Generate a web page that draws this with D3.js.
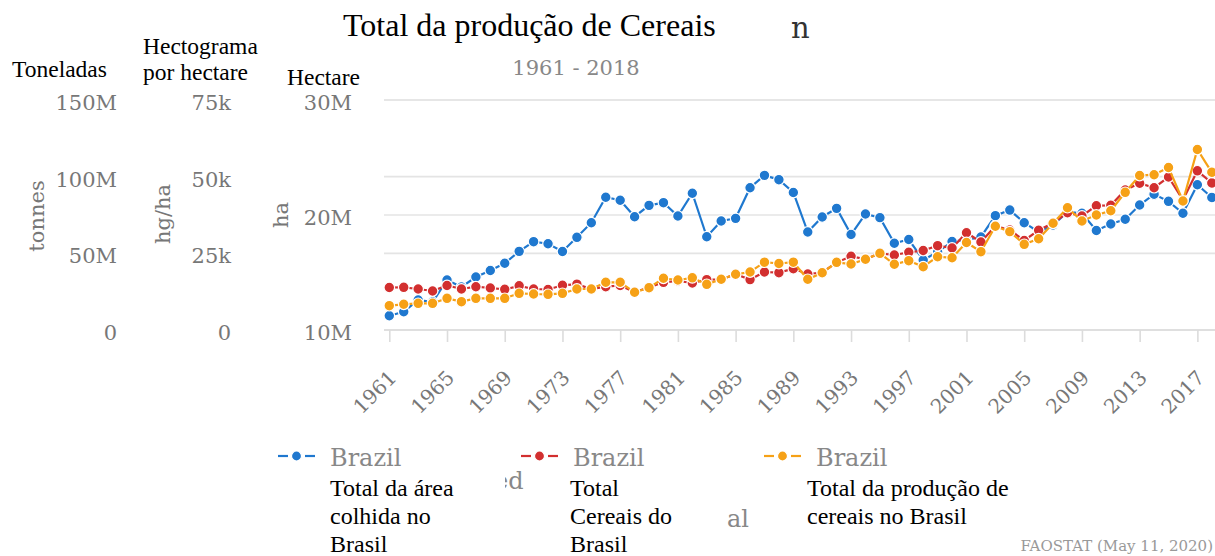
<!DOCTYPE html>
<html>
<head>
<meta charset="utf-8">
<script src="https://cdn.jsdelivr.net/npm/d3@7"></script>
<style>
  body { margin: 0; background: #fff; }
  svg { display: block; }
</style>
</head>
<body>
<script>
const width = 1215;
const height = 556;

const years = d3.range(1961, 2019);

// Total da área colhida (ha)
const areaHa = [
  11.24, 11.59, 12.61, 12.43, 14.35, 13.74, 14.61, 15.17, 15.80, 16.84,
  17.68, 17.50, 16.83, 18.06, 19.33, 21.54, 21.28, 19.85, 20.84, 21.07,
  19.91, 21.89, 18.11, 19.48, 19.71, 22.37, 23.45, 23.07, 21.96, 18.52,
  19.83, 20.58, 18.30, 20.09, 19.77, 17.54, 17.87, 16.09, 16.78, 17.70,
  17.83, 18.09, 19.94, 20.43, 19.33, 18.52, 19.13, 20.26, 20.15, 18.65,
  19.22, 19.63, 20.87, 21.81, 21.19, 20.15, 22.63, 21.52
].map(d => d * 1e6);

// Rendimento (hg/ha)
const yieldHg = [
  13860, 13920, 13370, 12720, 14510, 13370, 14120, 13700, 13270, 14410,
  13370, 13210, 14580, 14940, 13370, 14120, 14510, 12390, 13860, 15550,
  15980, 15330, 16440, 16470, 18200, 16440, 18910, 18690, 19990, 18260,
  18750, 22010, 24030, 23150, 24950, 24460, 25340, 25920, 27490, 26740,
  31700, 28700, 33910, 32610, 29190, 32510, 34890, 38250, 37170, 40530,
  40660, 45650, 47840, 46400, 49890, 42390, 51910, 47940
];

// Total da produção (toneladas)
const productionT = [
  15.85, 16.76, 17.41, 17.41, 20.67, 18.46, 20.67, 20.67, 20.67, 23.93,
  23.48, 23.28, 23.93, 26.74, 26.74, 31.11, 31.11, 24.59, 27.59, 33.72,
  32.61, 34.04, 29.80, 33.07, 36.33, 37.83, 44.22, 43.37, 44.22, 33.07,
  37.37, 44.15, 43.04, 46.11, 50.02, 42.85, 45.20, 41.28, 47.80, 47.09,
  57.07, 51.07, 67.63, 64.17, 55.89, 59.54, 69.59, 79.76, 71.09, 75.00,
  77.80, 89.80, 100.76, 101.28, 105.98, 84.13, 117.72, 102.85
].map(d => d * 1e6);

const xTicks = d3.range(1961, 2018, 4);
const tonnesTicks = [0, 50e6, 100e6, 150e6];
const hgTicks = [0, 25000, 50000, 75000];
const haTicks = [10e6, 20e6, 30e6];

const legendNames = ["Brazil", "Brazil", "Brazil"];
const legendNotes = [
  ["Total da área", "colhida no", "Brasil"],
  ["Total", "Cereais do", "Brasil"],
  ["Total da produção de", "cereais no Brasil"]
];

const colors = ["#1f78cf", "#d22f2f", "#f6a116"];
const serifGray = "DejaVu Serif";
const serifBlack = "'Liberation Serif', 'Times New Roman', serif";

const plot = { left: 389.3, right: 1211.8, top: 100, bottom: 330 };

const x = d3.scaleLinear().domain([1961, 2018]).range([plot.left, plot.right]);
const yT = d3.scaleLinear().domain([0, 150e6]).range([plot.bottom, plot.top]);
const yY = d3.scaleLinear().domain([0, 75000]).range([plot.bottom, plot.top]);
const yA = d3.scaleLinear().domain([10e6, 30e6]).range([plot.bottom, plot.top]);

const svg = d3.select("body").append("svg")
  .attr("width", width)
  .attr("height", height);

// grid lines from all three axes
const gridVals = [
  ...tonnesTicks.map(d => yT(d)),
  ...haTicks.map(d => yA(d))
];
svg.append("g")
  .selectAll("line")
  .data(gridVals)
  .join("line")
  .attr("x1", 384).attr("x2", width)
  .attr("y1", d => d).attr("y2", d => d)
  .attr("stroke", "#e4e4e4")
  .attr("stroke-width", 1.6);

// x axis
const xAxis = svg.append("g")
  .attr("transform", `translate(0,${plot.bottom})`)
  .call(d3.axisBottom(x).tickValues(xTicks).tickFormat(d3.format("d")).tickSize(12));
xAxis.select(".domain").attr("stroke", "#dcdcdc").attr("stroke-width", 1.6)
  .attr("d", `M384,0H${width}`);
xAxis.selectAll(".tick line").attr("stroke", "#dcdcdc").attr("stroke-width", 1.6);
xAxis.selectAll(".tick text")
  .attr("font-family", serifGray)
  .attr("font-size", 20)
  .attr("fill", "#777")
  .attr("text-anchor", "end")
  .attr("dy", null)
  .attr("y", null)
  .attr("transform", "translate(8,49) rotate(-45)");

// y axes
function yAxis(scale, ticks, xPos) {
  const g = svg.append("g")
    .attr("transform", `translate(${xPos},0)`)
    .call(d3.axisLeft(scale).tickValues(ticks).tickFormat(d3.format("~s")).tickSize(0).tickPadding(0));
  g.select(".domain").remove();
  g.selectAll(".tick text")
    .attr("font-family", serifGray)
    .attr("font-size", 21)
    .attr("fill", "#777")
    .attr("dy", "0.45em");
  return g;
}
yAxis(yT, tonnesTicks, 117);
yAxis(yY, hgTicks, 231);
yAxis(yA, haTicks, 352);

const axisTitles = [
  { text: "tonnes", x: 44, y: 216 },
  { text: "hg/ha", x: 170, y: 214 },
  { text: "ha", x: 288, y: 215 }
];
svg.append("g")
  .selectAll("text")
  .data(axisTitles)
  .join("text")
  .attr("transform", d => `translate(${d.x},${d.y}) rotate(-90)`)
  .attr("text-anchor", "middle")
  .attr("font-family", serifGray)
  .attr("font-size", 21)
  .attr("fill", "#777")
  .text(d => d.text);

// series
const series = [
  { values: areaHa, y: yA, color: colors[0] },
  { values: yieldHg, y: yY, color: colors[1] },
  { values: productionT, y: yT, color: colors[2] }
];

series.forEach(s => {
  const pts = years.map((yr, i) => [x(yr), s.y(s.values[i])]);
  const g = svg.append("g");
  g.append("path")
    .attr("d", d3.line()(pts))
    .attr("fill", "none")
    .attr("stroke", s.color)
    .attr("stroke-width", 2.2);
  g.selectAll("circle")
    .data(pts)
    .join("circle")
    .attr("cx", d => d[0])
    .attr("cy", d => d[1])
    .attr("r", 5.3)
    .attr("fill", s.color)
    .attr("stroke", "#fff")
    .attr("stroke-width", 1.2);
});

// titles
svg.append("text")
  .attr("x", 343).attr("y", 36)
  .attr("font-family", serifBlack)
  .attr("font-size", 32)
  .attr("fill", "#000")
  .text("Total da produção de Cereais");

svg.append("text")
  .attr("x", 791).attr("y", 38)
  .attr("font-family", serifGray)
  .attr("font-size", 29)
  .attr("fill", "#333")
  .text("n");

svg.append("text")
  .attr("x", 576).attr("y", 75)
  .attr("text-anchor", "middle")
  .attr("font-family", serifGray)
  .attr("font-size", 21)
  .attr("fill", "#888")
  .text("1961 - 2018");

const headers = [
  { lines: ["Toneladas"], x: 12, y: 77 },
  { lines: ["Hectograma", "por hectare"], x: 143, y: 54 },
  { lines: ["Hectare"], x: 287, y: 85 }
];
headers.forEach(h => {
  const t = svg.append("text")
    .attr("font-family", serifBlack)
    .attr("font-size", 23.5)
    .attr("fill", "#000");
  h.lines.forEach((ln, i) => {
    t.append("tspan").attr("x", h.x).attr("y", h.y + i * 26).text(ln);
  });
});

// legend
const legend = svg.append("g");
legendNames.forEach((name, i) => {
  const lx = 278 + i * 243;
  const ly = 456;
  legend.append("line")
    .attr("x1", lx).attr("x2", lx + 37)
    .attr("y1", ly).attr("y2", ly)
    .attr("stroke", colors[i])
    .attr("stroke-width", 2.2)
    .attr("stroke-dasharray", "10,27");
  legend.append("line")
    .attr("x1", lx + 27).attr("x2", lx + 37)
    .attr("y1", ly).attr("y2", ly)
    .attr("stroke", colors[i])
    .attr("stroke-width", 2.2);
  legend.append("circle")
    .attr("cx", lx + 18.5).attr("cy", ly)
    .attr("r", 5)
    .attr("fill", colors[i])
    .attr("stroke", "#fff")
    .attr("stroke-width", 1.2);
  legend.append("text")
    .attr("x", lx + 52).attr("y", ly + 10)
    .attr("font-family", serifGray)
    .attr("font-size", 24)
    .attr("fill", "#888")
    .text(name);
});

const noteX = [330, 570, 807];
legendNotes.forEach((lines, i) => {
  const t = svg.append("text")
    .attr("font-family", serifBlack)
    .attr("font-size", 24)
    .attr("fill", "#000");
  lines.forEach((ln, j) => {
    t.append("tspan").attr("x", noteX[i]).attr("y", 496 + j * 28).text(ln);
  });
});

svg.append("clipPath").attr("id", "edclip")
  .append("rect").attr("x", 505).attr("y", 460).attr("width", 40).attr("height", 40);
svg.append("text")
  .attr("x", 494).attr("y", 489)
  .attr("clip-path", "url(#edclip)")
  .attr("font-family", serifGray)
  .attr("font-size", 24)
  .attr("fill", "#888")
  .text("ed");

svg.append("text")
  .attr("x", 727).attr("y", 527)
  .attr("font-family", serifGray)
  .attr("font-size", 24)
  .attr("fill", "#888")
  .text("al");

svg.append("text")
  .attr("x", 1213).attr("y", 551)
  .attr("text-anchor", "end")
  .attr("font-family", serifGray)
  .attr("font-size", 15)
  .attr("fill", "#999")
  .text("FAOSTAT (May 11, 2020)");
</script>
</body>
</html>
